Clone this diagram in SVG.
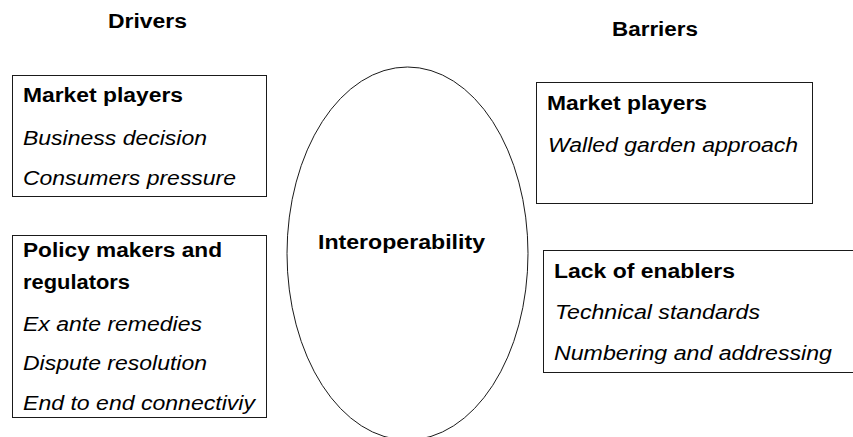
<svg xmlns="http://www.w3.org/2000/svg" width="853" height="437" viewBox="0 0 853 437">
  <style>
    .box { fill: #ffffff; stroke: #1a1a1a; stroke-width: 1; }
    .hub { fill: #ffffff; stroke: #1a1a1a; stroke-width: 1; }
    text { font-family: "Liberation Sans", Arial, sans-serif; font-size: 20px; fill: #000000; }
    .h { font-weight: bold; }
    .i { font-style: italic; }
  </style>
  <rect width="853" height="437" fill="#ffffff"/>

  <!-- column titles -->
  <text class="h" x="108" y="28" textLength="79" lengthAdjust="spacingAndGlyphs">Drivers</text>
  <text class="h" x="612" y="36" textLength="86" lengthAdjust="spacingAndGlyphs">Barriers</text>

  <!-- central concept -->
  <g id="interoperability">
    <ellipse class="hub" cx="407.5" cy="253.5" rx="120.5" ry="186.5"/>
    <text class="h" x="318" y="249" textLength="167" lengthAdjust="spacingAndGlyphs">Interoperability</text>
  </g>

  <!-- drivers -->
  <g id="drivers-market">
    <rect class="box" x="12.5" y="75.5" width="254" height="121"/>
    <text class="h" x="23" y="102" textLength="160" lengthAdjust="spacingAndGlyphs">Market players</text>
    <text class="i" x="23" y="145" textLength="184" lengthAdjust="spacingAndGlyphs">Business decision</text>
    <text class="i" x="23" y="185" textLength="213" lengthAdjust="spacingAndGlyphs">Consumers pressure</text>
  </g>

  <g id="drivers-policy">
    <rect class="box" x="12.5" y="235.5" width="254" height="182"/>
    <text class="h" x="23" y="257" textLength="199" lengthAdjust="spacingAndGlyphs">Policy makers and</text>
    <text class="h" x="23" y="289" textLength="107" lengthAdjust="spacingAndGlyphs">regulators</text>
    <text class="i" x="23" y="331" textLength="179" lengthAdjust="spacingAndGlyphs">Ex ante remedies</text>
    <text class="i" x="23" y="370" textLength="184" lengthAdjust="spacingAndGlyphs">Dispute resolution</text>
    <text class="i" x="23" y="410" textLength="232" lengthAdjust="spacingAndGlyphs">End to end connectiviy</text>
  </g>

  <!-- barriers -->
  <g id="barriers-market">
    <rect class="box" x="536.5" y="82.5" width="276" height="121"/>
    <text class="h" x="547" y="110" textLength="160" lengthAdjust="spacingAndGlyphs">Market players</text>
    <text class="i" x="548" y="152" textLength="250" lengthAdjust="spacingAndGlyphs">Walled garden approach</text>
  </g>

  <g id="barriers-enablers">
    <rect class="box" x="543.5" y="250.5" width="320" height="122"/>
    <text class="h" x="554" y="278" textLength="181" lengthAdjust="spacingAndGlyphs">Lack of enablers</text>
    <text class="i" x="555" y="319" textLength="205" lengthAdjust="spacingAndGlyphs">Technical standards</text>
    <text class="i" x="554" y="360" textLength="278" lengthAdjust="spacingAndGlyphs">Numbering and addressing</text>
  </g>

  <g id="connectors"></g>
</svg>
